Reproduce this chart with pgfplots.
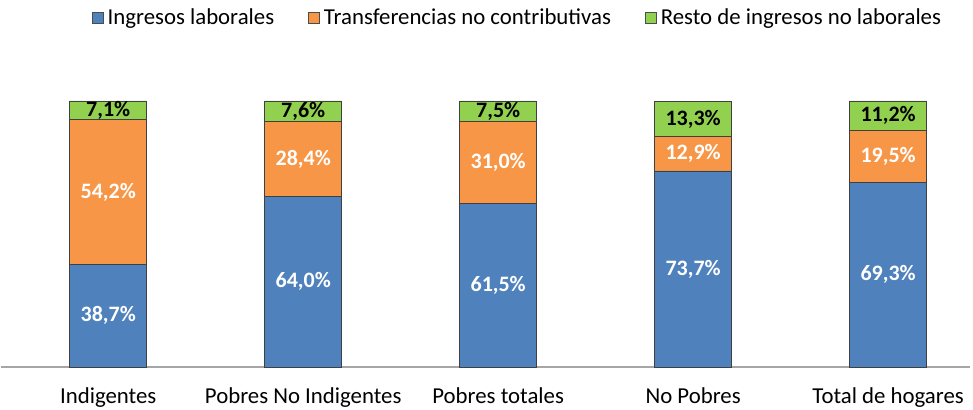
\documentclass[border=0pt]{standalone}
\usepackage{pgfplots}
\pgfplotsset{compat=1.18}
\usepackage{fontspec}
\setmainfont{Carlito}
\definecolor{cblue}{HTML}{4F81BD}
\definecolor{corange}{HTML}{F79646}
\definecolor{cgreen}{HTML}{92D050}
\begin{document}
\begin{tikzpicture}
\begin{axis}[
  scale only axis,
  width=484.5pt, height=133pt,
  xmin=-0.55, xmax=4.42,
  ymin=0, ymax=100,
  ybar stacked,
  bar width=38.5pt,
  axis x line*=bottom,
  axis y line=none,
  x axis line style={draw=gray!70, line width=0.8pt, -},
  xtick=data,
  xtick style={draw=none},
  xticklabels={Indigentes, Pobres No Indigentes, Pobres totales, No Pobres, Total de hogares},
  xticklabel style={font=\fontsize{11.4pt}{13pt}\selectfont, yshift=-7pt},
  clip=false,
  /pgf/number format/assume math mode=true,
  nodes near coords={\pgfmathprintnumber[fixed,fixed zerofill,precision=1,use comma]{\pgfplotspointmeta}\%},
  every node near coord/.append style={anchor=center, font=\bfseries\fontsize{11pt}{13pt}\selectfont},
  legend columns=3,
  legend style={draw=none, at={(0.534,1.312)}, anchor=center, font=\fontsize{11.4pt}{13pt}\selectfont,
    /tikz/every even column/.append style={column sep=15pt}},
  legend image code/.code={\draw[#1, draw=black!70, line width=0.4pt] (0pt,-2.75pt) rectangle (5.5pt,2.75pt);},
]
\addplot[fill=cblue, draw=black!75, line width=0.4pt, every node near coord/.append style={text=white}] coordinates {(0,38.7) (1,64.0) (2,61.5) (3,73.7) (4,69.3)};
\addlegendentry{Ingresos laborales}
\addplot[fill=corange, draw=black!75, line width=0.4pt, every node near coord/.append style={text=white}] coordinates {(0,54.2) (1,28.4) (2,31.0) (3,12.9) (4,19.5)};
\addlegendentry{Transferencias no contributivas}
\addplot[fill=cgreen, draw=black!75, line width=0.4pt, every node near coord/.append style={text=black}] coordinates {(0,7.1) (1,7.6) (2,7.5) (3,13.3) (4,11.2)};
\addlegendentry{Resto de ingresos no laborales}
\end{axis}
\pgfresetboundingbox
\path[use as bounding box] (-0.5pt,-21.5pt) rectangle (486pt,183.5pt);
\end{tikzpicture}
\end{document}
